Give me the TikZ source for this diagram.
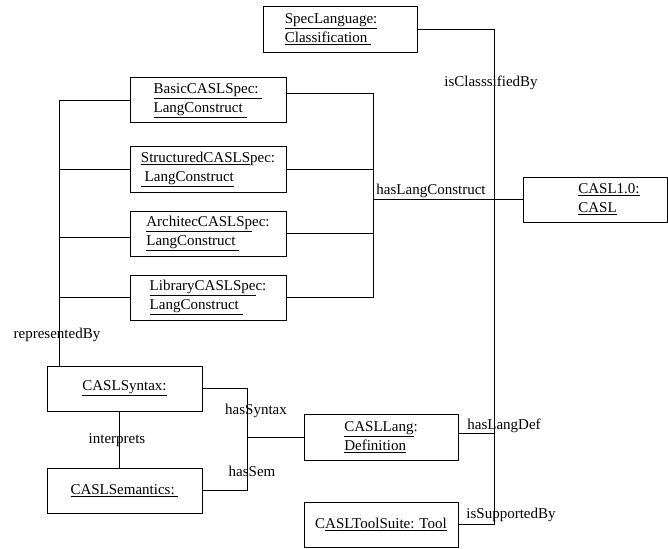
\documentclass[tikz,border=0pt]{standalone}
\usepackage{fontspec}
\setmainfont{Liberation Serif}
\begin{document}
\begin{tikzpicture}[x=1pt,y=-1pt,
  box/.style={draw, line width=1pt, rectangle, inner sep=0pt, outer sep=0pt,
    align=left, font=\fontsize{15}{19}\selectfont},
  lbl/.style={inner sep=0pt, font=\fontsize{15}{17}\selectfont},
  conn/.style={line width=1pt}]
\useasboundingbox (0,0) rectangle (668,548);
% boxes
\node[box, minimum width=154pt, minimum height=46pt] (spec) at (340,29.5)
  {\underline{SpecLanguage:}\\\underline{Classification\ }\hspace*{24pt}};
\node[box, minimum width=156pt, minimum height=45pt] (basic) at (208,100.5)
  {\underline{BasicCASLSpec:\ }\\\underline{LangConstruct\ }};
\node[box, minimum width=156pt, minimum height=45pt] (struct) at (208,169.5)
  {\underline{StructuredCASLS}pec:\\\underline{\ LangConstruct}};
\node[box, minimum width=156pt, minimum height=45pt] (arch) at (208,233.5)
  {\underline{ArchitecCASLSp}ec:\\\underline{LangConstruct\ }};
\node[box, minimum width=156pt, minimum height=45pt] (lib) at (208,297.5)
  {\underline{LibraryCASLSpe}c:\\\underline{LangConstruct\ }};
\node[box, minimum width=144pt, minimum height=45pt] (casl) at (595,199.5)
  {\hspace*{28pt}\underline{CASL1.0:}\\\hspace*{28pt}\underline{CASL}};
\node[box, minimum width=155pt, minimum height=45pt] (syn) at (124.5,388.5)
  {\underline{CASLSyntax:}};
\node[box, minimum width=155pt, minimum height=45pt] (sem) at (124.5,490.5)
  {\underline{CASLSemantics:\ }};
\node[box, minimum width=154pt, minimum height=46pt] (lang) at (381,437.5)
  {\underline{CASLLang}:\\\underline{Definition}};
\node[box, minimum width=154pt, minimum height=45pt] (tool) at (381,524.5)
  {C\underline{ASLToolSuite: Tool}};
% junction coordinates
\coordinate (rbus) at (373.5,93.5);
\coordinate (rbus2) at (373.5,297.5);
\coordinate (hub) at (373.5,199.5);
\coordinate (lbus) at (59.5,102);
\coordinate (vbus) at (494.5,29.5);
\coordinate (sbus) at (247.5,388.5);
\coordinate (ix) at (119.5,411);
% connectors
\draw[conn] (basic.east |- rbus) -- (rbus) -- (rbus2) -- (lib.east);
\draw[conn] (struct.east) -- (struct.east -| hub);
\draw[conn] (arch.east) -- (arch.east -| hub);
\draw[conn] (hub) -- (casl.west |- hub);
\draw[conn] (basic.west) -| (syn.north -| lbus);
\draw[conn] (struct.west) -- (struct.west -| lbus);
\draw[conn] ([yshift=-4pt]arch.west) -- ([yshift=-4pt]arch.west -| lbus);
\draw[conn] (lib.west) -- (lib.west -| lbus);
\draw[conn] (spec.east) -| (vbus |- tool.east) -- (tool.east);
\draw[conn] ([yshift=4pt]lang.east) -- ([yshift=4pt]lang.east -| vbus);
\draw[conn] (syn.east) -| (sbus |- sem.east) -- (sem.east);
\draw[conn] (sbus |- lang.west) -- (lang.west);
\draw[conn] (syn.south -| ix) -- (sem.north -| ix);
% labels
\node[lbl] (lcls) at (491,83) {isClasssifiedBy};
\node[lbl] (lhlc) at (431,191) {hasLangConstruct};
\node[lbl] (lrep) at (57,335) {representedBy};
\node[lbl] (lint) at (117,440) {interprets};
\node[lbl] (lsyn) at (256,411) {hasSyntax};
\node[lbl] (lsem) at (252,471) {hasSem};
\node[lbl] (ldef) at (504,426) {hasLangDef};
\node[lbl] (lsup) at (511,515) {isSupportedBy};
\end{tikzpicture}
\end{document}
